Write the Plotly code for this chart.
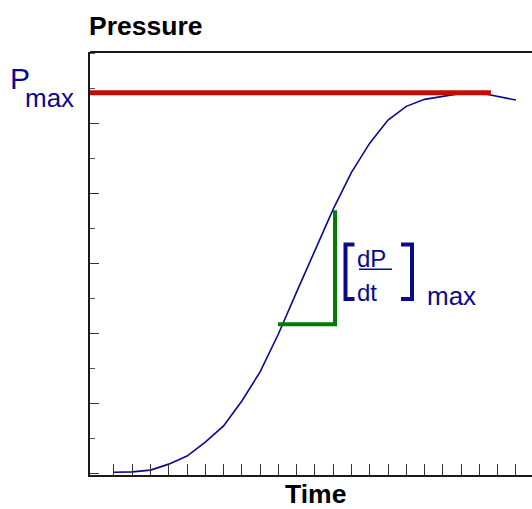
import plotly.graph_objects as go

# ---- data ----
time_steps = list(range(23))
pressure = [0.05, 0.06, 0.11, 0.28, 0.51, 0.91, 1.37, 2.08, 2.91, 3.99, 5.19,
            6.38, 7.55, 8.60, 9.43, 10.09, 10.48, 10.68, 10.77, 10.85, 10.87,
            10.77, 10.66]
pmax_span = [-1.31, 20.63]
slope_x = [8.98, 12.10, 12.10]
slope_y = [4.27, 4.27, 7.52]
y_ticks = list(range(0, 12, 2))

NAVY = "#0a0a8c"
W, H = 532, 509
L, R, T, B = 90, 0, 52, 34
PW, PH = W - L - R, H - T - B


def px(xp):
    return (xp - L) / PW


def py(yp):
    return (H - B - yp) / PH


pmax = max(pressure)

fig = go.Figure()
fig.add_trace(go.Scatter(x=time_steps, y=pressure, mode="lines",
                         line=dict(color=NAVY, width=1.6), hoverinfo="skip"))
fig.add_trace(go.Scatter(x=pmax_span, y=[pmax, pmax], mode="lines",
                         line=dict(color="#c40c00", width=5), hoverinfo="skip"))
fig.add_trace(go.Scatter(x=slope_x, y=slope_y, mode="lines",
                         line=dict(color="#007d00", width=4), hoverinfo="skip"))

annotations = [
    dict(text="<b>Pressure</b>", x=px(87), y=py(26), xanchor="left", yanchor="middle",
         font=dict(size=26.5, color="black")),
    dict(text="<b>Time</b>", x=px(315), y=py(509), xanchor="center", yanchor="bottom",
         font=dict(size=26.5, color="black"), borderpad=0, borderwidth=0),
    dict(text="P", x=px(8), y=py(78.5), xanchor="left", yanchor="middle",
         font=dict(size=30, color=NAVY)),
    dict(text="max", x=px(23), y=py(97.7), xanchor="left", yanchor="middle",
         font=dict(size=26, color=NAVY)),
    dict(text="dP", x=px(355), y=py(258.4), xanchor="left", yanchor="middle",
         font=dict(size=24, color=NAVY)),
    dict(text="dt", x=px(355), y=py(292.4), xanchor="left", yanchor="middle",
         font=dict(size=24, color=NAVY)),
    dict(text="max", x=px(425), y=py(296), xanchor="left", yanchor="middle",
         font=dict(size=26, color=NAVY)),
]
for a in annotations:
    a.update(xref="paper", yref="paper", showarrow=False)

shapes = [
    # top frame line
    dict(type="line", xref="paper", yref="paper", x0=0, x1=1, y0=1, y1=1,
         line=dict(color="#1a1a1a", width=2)),
    # fraction bar
    dict(type="line", xref="paper", yref="paper", x0=px(359), x1=px(392),
         y0=py(269.3), y1=py(269.3), line=dict(color=NAVY, width=1.5)),
    # left bracket
    dict(type="path", xref="paper", yref="paper",
         path=f"M {px(354.5)},{py(244.5)} L {px(345.5)},{py(244.5)} L {px(345.5)},{py(299)} L {px(354.5)},{py(299)}",
         line=dict(color=NAVY, width=4)),
    # right bracket
    dict(type="path", xref="paper", yref="paper",
         path=f"M {px(401)},{py(244.5)} L {px(412)},{py(244.5)} L {px(412)},{py(299)} L {px(401)},{py(299)}",
         line=dict(color=NAVY, width=4)),
]

fig.update_layout(
    width=W, height=H,
    margin=dict(l=L, r=R, t=T, b=B),
    paper_bgcolor="white", plot_bgcolor="white",
    showlegend=False,
    font=dict(family="Liberation Sans, Arial, sans-serif"),
    annotations=annotations,
    shapes=shapes,
)
fig.update_xaxes(range=[-1.31, 22.88], showgrid=False, zeroline=False,
                 showline=True, linecolor="#1a1a1a", linewidth=2,
                 ticks="inside", ticklen=11, tickwidth=1, tickcolor="#333",
                 tickvals=time_steps, showticklabels=False)
fig.update_yaxes(range=[-0.03, 12.03], showgrid=False, zeroline=False,
                 showline=True, linecolor="#1a1a1a", linewidth=2,
                 ticks="inside", ticklen=9, tickwidth=1, tickcolor="#333",
                 tickvals=y_ticks, showticklabels=False,
                 minor=dict(ticks="inside", ticklen=5, tickwidth=1, tickcolor="#555",
                            dtick=1, tick0=1, showgrid=False))

fig.write_html("out.html", config={"displayModeBar": False},
               post_script="document.body.style.margin='0';document.body.style.padding='0';")
